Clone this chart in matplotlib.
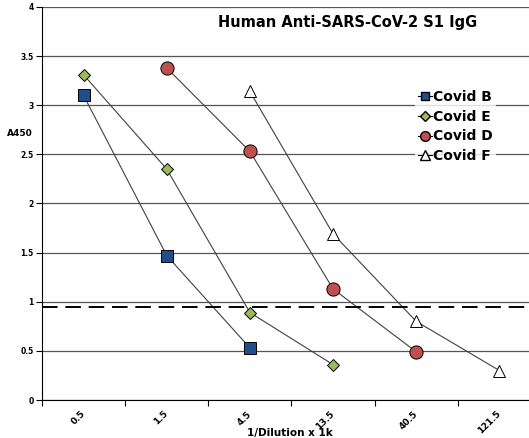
import numpy as np
import matplotlib.pyplot as plt
from matplotlib.lines import Line2D

dilutions = ["0.5", "1.5", "4.5", "13.5", "40.5", "121.5"]
covid_b = [3.10, 1.47, 0.53]
covid_e = [3.31, 2.35, 0.89, 0.36]
covid_d = [3.38, 2.53, 1.13, 0.49]
covid_f = [3.14, 1.69, 0.80, 0.30]
cutoff = 0.95

fig = plt.figure(figsize=(5.29, 4.38), dpi=100, facecolor='white')
ax = fig.add_axes([42/529, 38/438, 499/529, 393/438])

x = np.arange(len(dilutions))
line_kw = dict(color='#404040', lw=0.8, mec='black', mew=0.7)
ax.plot(x[0:3], covid_b, marker='s', ms=9, mfc='#1F4E8C', **line_kw)
ax.plot(x[0:4], covid_e, marker='D', ms=6.5, mfc='#9BBB59', **line_kw)
ax.plot(x[1:5], covid_d, marker='o', ms=9.5, mfc='#C0504D', **line_kw)
ax.plot(x[2:6], covid_f, marker='^', ms=9, mfc='white', **line_kw)
ax.axhline(cutoff, color='black', lw=1.4, dashes=(8, 4))

ax.set_xlim(-0.5, 5.5)
ax.set_ylim(0, 4)
ax.set_yticks(np.arange(0, 4.01, 0.5))
ax.set_yticklabels(["0", "0.5", "1", "1.5", "2", "2.5", "3", "3.5", "4"],
                   fontsize=5.5, fontweight='bold')
ax.yaxis.grid(True, color='#555555', lw=0.9)
ax.set_axisbelow(True)

ax.set_xticks(np.arange(-0.5, 5.6, 1))
ax.set_xticklabels([])
ax.set_xticks(x, minor=True)
ax.set_xticklabels(dilutions, minor=True, rotation=45, ha='right', va='center',
                   rotation_mode='anchor', fontsize=6.5, fontweight='bold')
ax.tick_params(axis='x', which='minor', length=0, pad=9)
ax.tick_params(axis='x', which='major', length=4, direction='out')
ax.tick_params(axis='y', length=4, direction='out', pad=2)

for s in ['top', 'right']:
    ax.spines[s].set_visible(False)
ax.spines['left'].set_color('black')
ax.spines['bottom'].set_color('black')

fig.text(20/529, 1 - 133/438, "A450", fontsize=6.5, fontweight='bold',
         ha='center', va='center')
fig.text(348/529, 1 - 22/438, "Human Anti-SARS-CoV-2 S1 IgG", fontsize=10.5,
         fontweight='bold', ha='center', va='center')
fig.text(290/529, 1 - 433/438, "1/Dilution x 1k", fontsize=7.5,
         fontweight='bold', ha='center', va='center')

handles = [
    Line2D([], [], color='black', lw=0.8, marker='s', ms=6, mfc='#1F4E8C', mec='black'),
    Line2D([], [], color='black', lw=0.8, marker='D', ms=5, mfc='#9BBB59', mec='black'),
    Line2D([], [], color='black', lw=0.8, marker='o', ms=7, mfc='#C0504D', mec='black'),
    Line2D([], [], color='black', lw=0.8, marker='^', ms=7, mfc='white', mec='black'),
]
leg = fig.legend(handles, ["Covid B", "Covid E", "Covid D", "Covid F"],
                 loc='upper left', bbox_to_anchor=(408/529, 1 - 80/438),
                 frameon=True, fancybox=False, edgecolor='white',
                 prop={'size': 10, 'weight': 'bold'}, handlelength=1.0,
                 handletextpad=0.1, labelspacing=0.42, borderpad=0.2)
leg.get_frame().set_linewidth(0)

fig.savefig('out.png', dpi=100, facecolor='white')
